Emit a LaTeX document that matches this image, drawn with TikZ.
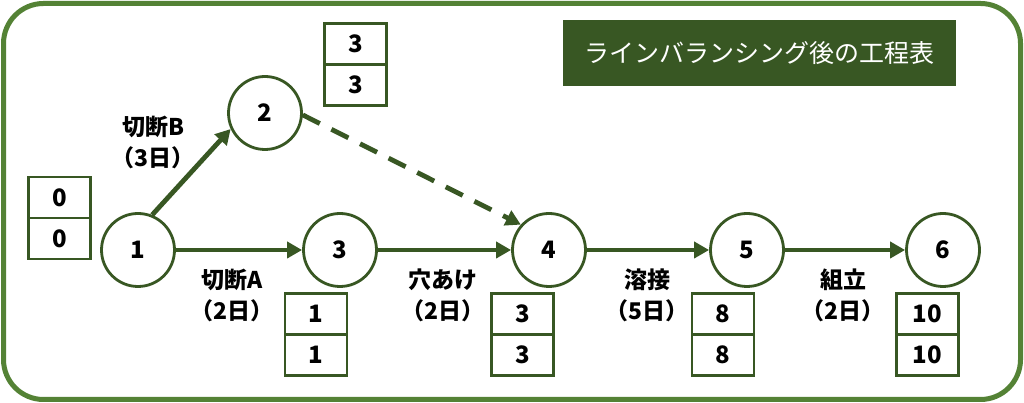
\documentclass[tikz,border=0pt]{standalone}
\usepackage{fontspec}
\setmainfont{Noto Sans CJK JP}
\usepackage{tikz}
\usepackage{xcolor}
\usetikzlibrary{positioning,arrows.meta}

\begin{document}
\begin{tikzpicture}[x=1pt,y=1pt,
  event/.style={circle,draw=lineColor,line width=2.8pt,minimum size=73pt,inner sep=0pt,
    font=\fontsize{24}{24}\selectfont\bfseries},
  cell/.style={rectangle,draw=lineColor,line width=2.6pt,minimum width=62pt,minimum height=41pt,
    inner sep=0pt,font=\fontsize{24}{24}\selectfont\bfseries},
  task/.style={align=center,inner sep=0pt,font=\fontsize{23}{31}\selectfont\bfseries},
  work/.style={draw=lineColor,line width=4.8pt,-{Triangle[length=15pt,width=16pt]}},
  dummy/.style={work,dash pattern=on 19pt off 13pt}]
\definecolor{fillColor}{RGB}{255,255,255}
\definecolor{frameColor}{RGB}{84,130,53}
\definecolor{lineColor}{RGB}{56,87,35}
\definecolor{titleColor}{RGB}{56,87,35}
\path[use as bounding box,fill=fillColor] (0,0) rectangle (1024,403);

\draw[draw=frameColor,line width=5pt,rounded corners=40pt] (3.5,3.5) rectangle (1020.5,399.5);

\node[fill=titleColor,text=white,minimum width=393pt,minimum height=66pt,inner sep=0pt,
  font=\fontsize{25}{25}\selectfont] (title) at (759.5,350) {ラインバランシング後の工程表};

% events
\node[event] (n1) at (138,153) {1};
\node[event] (n2) at (265,290) {2};
\node[event] (n3) at (340,153) {3};
\node[event] (n4) at (549,153) {4};
\node[event] (n5) at (747,153) {5};
\node[event] (n6) at (943,153) {6};

% earliest / latest times
\node[cell] (t1a) at (59.5,205.5) {0};
\node[cell] (t1b) at (59.5,164.5) {0};
\node[cell] (t2a) at (355.5,359) {3};
\node[cell] (t2b) at (355.5,318) {3};
\node[cell] (t3a) at (316,89) {1};
\node[cell] (t3b) at (316,48) {1};
\node[cell] (t4a) at (522.5,89) {3};
\node[cell] (t4b) at (522.5,48) {3};
\node[cell] (t5a) at (723,89) {8};
\node[cell] (t5b) at (723,48) {8};
\node[cell] (t6a) at (927.5,89) {10};
\node[cell] (t6b) at (927.5,48) {10};

% activities
\draw[work] (n1.68) -- (n2.205);
\draw[work] (n1) -- (n3);
\draw[work] (n3) -- (n4);
\draw[work] (n4) -- (n5);
\draw[work] (n5) -- (n6);
\draw[dummy] (n2.-3) -- (n4.138);

\node[task] (lb) at (153,261) {切断B\\（3日）};
\node[task] (la) at (232,108) {切断A\\（2日）};
\node[task] (lh) at (443,108) {穴あけ\\（2日）};
\node[task] (lw) at (647,108) {溶接\\（5日）};
\node[task] (lk) at (843,108) {組立\\（2日）};
\end{tikzpicture}
\end{document}
